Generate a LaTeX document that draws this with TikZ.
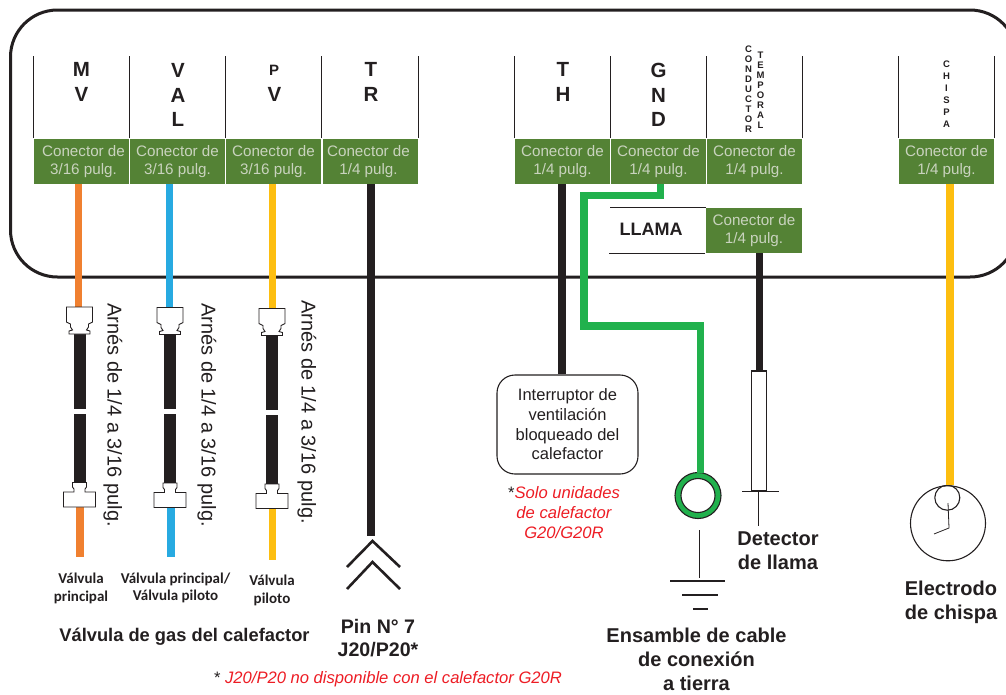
\documentclass[tikz,border=0pt]{standalone}
\usepackage{fontspec}
\setmainfont{Liberation Sans}
\newfontfamily\calfont{Carlito}
\definecolor{inkk}{HTML}{231F20}
\definecolor{congreen}{HTML}{548235}
\definecolor{contxt}{HTML}{C9D3BE}
\definecolor{worange}{HTML}{F08030}
\definecolor{wblue}{HTML}{27AAE1}
\definecolor{wyellow}{HTML}{FDBE10}
\definecolor{wgreen}{HTML}{21B14D}
\definecolor{redtxt}{HTML}{ED1C24}
\tikzset{
  conbox/.style={fill=congreen,text=contxt,minimum width=95pt,minimum height=45pt,inner sep=0pt,align=center,font=\fontsize{15.2}{18}\selectfont},
  tick/.style={inkk,line width=0.8pt},
  hdr/.style={inkk,align=center,inner sep=0pt,font=\bfseries\fontsize{20.5}{24.5}\selectfont},
  vert/.style={inkk,align=center,inner sep=0pt,font=\bfseries\fontsize{9.5}{10}\selectfont},
  vertb/.style={inkk,align=center,inner sep=0pt,font=\bfseries\fontsize{9.5}{12}\selectfont},
  wire/.style={line width=7.6pt,line cap=butt,line join=miter},
  lbl/.style={inkk,align=center,inner sep=0pt,font=\bfseries\fontsize{20}{24}\selectfont},
  small/.style={inkk,align=center,inner sep=0pt,font=\calfont\bfseries\fontsize{15}{18}\selectfont},
  redl/.style={redtxt,align=center,inner sep=0pt,font=\itshape\fontsize{16.6}{20}\selectfont},
  harn/.style={inkk,inner sep=0pt,rotate=-90,font=\fontsize{20}{20}\selectfont},
  fit/.style={draw=inkk,fill=white,line width=0.9pt},
  thin/.style={inkk,line width=1pt},
  thick/.style={inkk,line width=1.8pt}
}
% harness: centre x, top-fitting y shift
\newcommand{\myharness}[2]{%
  \begin{scope}[shift={(#1,#2)}]
    \fill[inkk] (-6,26) rectangle (6,101.5);
    \fill[inkk] (-6,106.5) rectangle (6,176);
    \draw[fit] (-13,0) -- (13,0) -- (13,15) -- (9,17) -- (9,20) -- (7,23) -- (10.5,24) -- (10.5,27) -- (-10.5,27) -- (-10.5,24) -- (-7,23) -- (-9,20) -- (-9,17) -- (-13,15) -- cycle;
    \draw[fit] (-7,175.5) -- (7,175.5) -- (7,180) -- (5.5,182) -- (5.5,185) -- (16,185) -- (16,200) -- (-16,200) -- (-16,185) -- (-5.5,185) -- (-5.5,182) -- (-7,180) -- cycle;
  \end{scope}}
\begin{document}
\begin{tikzpicture}[x=1pt,y=-1pt]
\path[use as bounding box] (0,0) rectangle (1006,694);
\begin{scope}
\clip (0,0) rectangle (1006,694);
\draw[inkk,line width=3pt,rounded corners=47pt] (10.5,10) rectangle (1017,277);
\end{scope}
% ticks
\foreach \x in {33.5,129.5,225.5,321.5,418.5,514.5,610.5,706.5,802.5,898.5,994.5}
  \draw[tick] (\x,56) -- (\x,138);
% wires
\node[conbox] (cMV) at (81.5,161.5) {\hspace*{4pt}Conector de\\\hspace*{4pt}3/16 pulg.};
\node[conbox] (cVAL) at (177.5,161.5) {Conector de\\3/16 pulg.};
\node[conbox] (cPV) at (273.5,161.5) {Conector de\\3/16 pulg.};
\node[conbox] (cTR) at (370,161.5) {Conector de\hspace*{3pt}\\1/4 pulg.\hspace*{3pt}};
\node[conbox] (cTH) at (562.5,161.5) {Conector de\\1/4 pulg.};
\node[conbox] (cGND) at (658.5,161.5) {Conector de\\1/4 pulg.};
\node[conbox] (cCT) at (754.5,161.5) {Conector de\\1/4 pulg.};
\node[conbox] (cCH) at (946.5,161.5) {Conector de\\1/4 pulg.};
\node[conbox,minimum width=96pt] (cLL) at (754,230.5) {Conector de\\1/4 pulg.};
% headers
\node[hdr] (hMV) at (81.5,82) {M\\V};
\node[hdr] (hVAL) at (178,95) {V\\A\\L};
\node[hdr,font=\bfseries\fontsize{15}{24.5}\selectfont] (hP) at (274,70) {P};
\node[hdr] (hV) at (274.5,94) {V};
\node[hdr] (hTR) at (371,82) {T\\R};
\node[hdr] (hTH) at (563,82) {T\\H};
\node[hdr] (hGND) at (658.5,95) {G\\N\\D};
\node[vert] (hCON) at (748.5,89.5) {C\\O\\N\\D\\U\\C\\T\\O\\R};
\node[vert] (hTEM) at (760.5,90) {T\\E\\M\\P\\O\\R\\A\\L};
\node[vertb] (hCH) at (946.5,94.5) {C\\H\\I\\S\\P\\A};
% LLAMA
\node[inkk,inner sep=0pt,font=\bfseries\fontsize{18}{20}\selectfont] (hLL) at (651,229.5) {LLAMA};
\coordinate (la) at (610,207.5); \coordinate (lb) at (706,207.5);
\coordinate (lc) at (609,253.5); \coordinate (ld) at (705,253.5);
\draw[thin] (la) -- (lb);
\draw[thin] (lc) -- (ld);
% valve wires
\coordinate (o1) at (78.5,307); \coordinate (o2) at (80,507); \coordinate (o3) at (80,557);
\coordinate (b1) at (169.5,307); \coordinate (b2) at (171,507); \coordinate (b3) at (171,557);
\coordinate (y1) at (272.5,308); \coordinate (y2) at (272.5,508); \coordinate (y3) at (272.5,560);
\draw[wire,worange] (cMV.south -| o1) -- (o1);
\draw[wire,worange] (o2) -- (o3);
\draw[wire,wblue] (cVAL.south -| b1) -- (b1);
\draw[wire,wblue] (b2) -- (b3);
\draw[wire,wyellow] (cPV.south -| y1) -- (y1);
\draw[wire,wyellow] (y2) -- (y3);
\myharness{79.5}{307}
\myharness{170}{307.5}
\myharness{272}{308.5}
\node[harn] (t1) at (113,415) {Arnés de 1/4 a 3/16 pulg.};
\node[harn] (t2) at (207,415) {Arnés de 1/4 a 3/16 pulg.};
\node[harn] (t3) at (307,412) {Arnés de 1/4 a 3/16 pulg.};
% TR wire and chevrons
\coordinate (tr) at (371,536);
\draw[wire,inkk] (cTR.south -| tr) -- (tr);
\coordinate (ch1a) at (347,567); \coordinate (ch1t) at (372.5,541); \coordinate (ch1b) at (400,567);
\coordinate (ch2a) at (347,589); \coordinate (ch2t) at (372.5,562); \coordinate (ch2b) at (400,589);
\draw[inkk,line width=2.6pt] (ch1a) -- (ch1t) -- (ch1b);
\draw[inkk,line width=2.6pt] (ch2a) -- (ch2t) -- (ch2b);
% TH switch
\node[draw=inkk,fill=white,line width=1.1pt,rounded corners=18pt,minimum width=141pt,minimum height=99pt,inner sep=0pt,align=center,text=inkk,font=\fontsize{16.5}{19.7}\selectfont] (sw) at (567.5,424.5) {Interruptor de\\ventilación\\bloqueado del\\calefactor};
\coordinate (thx) at (562,0);
\draw[wire,inkk] (cTH.south -| thx) -- (sw.north -| thx);
% GND wire and ring
\node[circle,draw=inkk,line width=1.1pt,fill=wgreen,minimum size=46pt,inner sep=0pt] (ring) at (698,495.5) {};
\node[circle,draw=inkk,line width=1.1pt,fill=white,minimum size=34pt,inner sep=0pt] (ringin) at (698,495.5) {};
\coordinate (g0) at (660.5,195.5); \coordinate (g1) at (584,195.5); \coordinate (g2) at (584,326); \coordinate (g3) at (700.5,326); \coordinate (g4) at (700.5,473);
\draw[wire,wgreen] (cGND.south -| g0) -- (g0) -- (g1) -- (g2) -- (g3) -- (g4);
\coordinate (e0) at (699.3,530); \coordinate (e1) at (699.3,578);
\draw[thick,line width=1.4pt] (e0) -- (e1);
\draw[thick] (670,581) -- (725,581);
\draw[thick] (682,595) -- (718,595);
\draw[thick] (693,609) -- (708,609);
% flame detector
\node[draw=inkk,fill=white,line width=1.1pt,minimum width=15pt,minimum height=120pt,inner sep=0pt] (det) at (759,431) {};
\coordinate (lx) at (759.3,0);
\draw[wire,inkk] (cLL.south -| lx) -- (det.north -| lx);
\coordinate (d0) at (742,491.3); \coordinate (d1) at (779,491.3); \coordinate (d2) at (758.7,491.3); \coordinate (d3) at (758.7,526);
\draw[thin] (d0) -- (d1);
\draw[thick,line width=1.4pt] (d2) -- (d3);
% spark
\node[circle,draw=inkk,line width=1.1pt,minimum size=75pt,inner sep=0pt] (sp) at (948,523.3) {};
\node[circle,draw=inkk,line width=1.1pt,minimum size=25pt,inner sep=0pt] (spi) at (947.3,497.7) {};
\coordinate (sx) at (950,485);
\draw[wire,wyellow] (cCH.south -| sx) -- (sx);
\coordinate (s0) at (948,503); \coordinate (s1) at (949,528); \coordinate (s2) at (934,534);
\draw[inkk,line width=0.8pt] (s0) -- (s1) -- (s2);
% labels
\node[small] (l1) at (81,588.5) {Válvula\\principal};
\node[small,font=\calfont\bfseries\fontsize{15}{17}\selectfont] (l2) at (175.5,587.5) {Válvula principal/\\Válvula piloto};
\node[small] (l3) at (272,590) {Válvula\\piloto};
\node[lbl,font=\bfseries\fontsize{18.3}{20}\selectfont] (l4) at (184.5,637) {Válvula de gas del calefactor};
\node[lbl,font=\bfseries\fontsize{19.6}{23}\selectfont] (l5) at (378,638.5) {Pin N° 7\\J20/P20*};
\node[lbl] (l6) at (778,551) {Detector\\de llama};
\node[lbl] (l7) at (951,602) {Electrodo\\de chispa};
\node[lbl,font=\bfseries\fontsize{20}{23.7}\selectfont] (l8) at (696.5,659.5) {Ensamble de cable\\de conexión\\a tierra};
\node[redl] (r1) at (564,513) {{\color{inkk}\upshape *}Solo unidades\\de calefactor\\G20/G20R};
\node[redl] (r2) at (388,679) {{\color{inkk}\upshape *} J20/P20 no disponible con el calefactor G20R};
\end{tikzpicture}
\end{document}
